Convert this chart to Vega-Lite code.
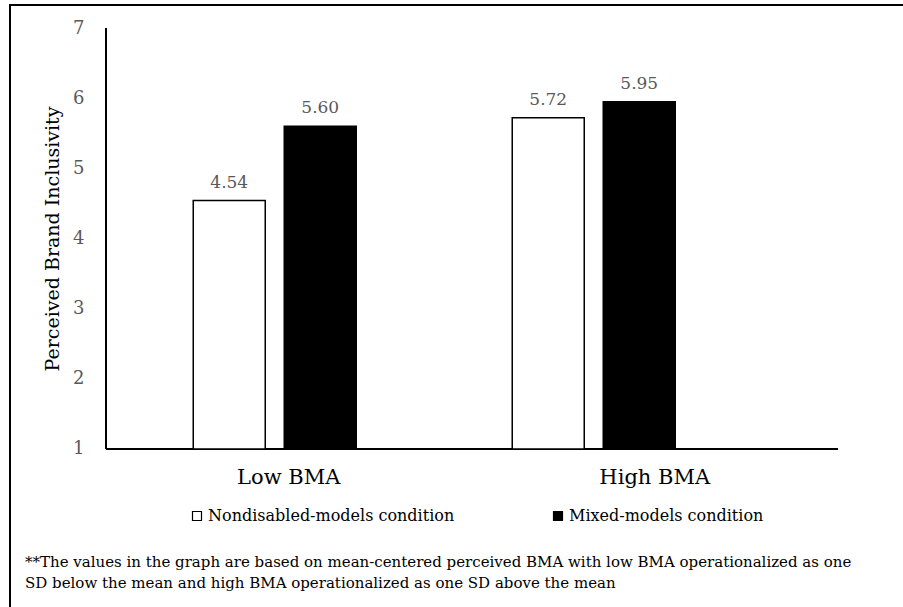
{
  "$schema": "https://vega.github.io/schema/vega-lite/v6.json",
  "autosize": "none",
  "width": 900,
  "height": 610,
  "padding": {"left": 10, "top": 5, "right": 0, "bottom": 0},
  "background": "white",
  "config": {
    "view": {"stroke": "black", "strokeWidth": 2},
    "axisX": {
      "offset": -166,
      "domain": false,
      "ticks": false,
      "grid": false,
      "labelAngle": 0,
      "labelFont": "DejaVu Serif",
      "labelFontSize": 21,
      "labelColor": "black",
      "labelPadding": 17
    },
    "axisY": {
      "offset": -96,
      "domain": false,
      "ticks": false,
      "grid": false,
      "labelFont": "DejaVu Serif",
      "labelFontSize": 18,
      "labelColor": "#595959",
      "labelPadding": 22,
      "titleFont": "DejaVu Serif",
      "titleFontSize": 19,
      "titleFontWeight": "normal",
      "titleColor": "black",
      "titleX": -44,
      "titleY": 233.5
    }
  },
  "title": {
    "text": [
      "**The values in the graph are based on mean-centered perceived BMA with low BMA operationalized as one",
      "SD below the mean and high BMA operationalized as one SD above the mean"
    ],
    "orient": "bottom",
    "anchor": "start",
    "frame": "group",
    "font": "DejaVu Serif",
    "fontSize": 15,
    "fontWeight": "normal",
    "color": "black",
    "lineHeight": 21,
    "baseline": "top",
    "offset": -60,
    "dx": 15
  },
  "data": {
    "values": [
      {"bma": "Low BMA", "condition": "Nondisabled-models condition", "inclusivity": 4.54},
      {"bma": "Low BMA", "condition": "Mixed-models condition", "inclusivity": 5.60},
      {"bma": "High BMA", "condition": "Nondisabled-models condition", "inclusivity": 5.72},
      {"bma": "High BMA", "condition": "Mixed-models condition", "inclusivity": 5.95}
    ]
  },
  "layer": [
    {
      "mark": {"type": "rule", "color": "black", "strokeWidth": 1.5},
      "encoding": {
        "x": {"datum": "Low BMA", "type": "nominal", "bandPosition": -0.029, "title": null},
        "y": {"datum": 1, "type": "quantitative", "title": "Perceived Brand Inclusivity"},
        "y2": {"datum": 7}
      }
    },
    {
      "mark": {"type": "rule", "color": "black", "strokeWidth": 1.5},
      "encoding": {
        "x": {"datum": "Low BMA", "type": "nominal", "bandPosition": -0.029, "title": null},
        "x2": {"datum": "High BMA", "bandPosition": 1.2657},
        "y": {"datum": 1, "type": "quantitative", "title": "Perceived Brand Inclusivity"}
      }
    },
    {
      "mark": {"type": "bar", "stroke": "black", "strokeWidth": 1.5},
      "encoding": {
        "x": {
          "field": "bma",
          "type": "nominal",
          "sort": null,
          "title": null,
          "scale": {
            "type": "band",
            "domain": ["Low BMA", "High BMA"],
            "paddingInner": 0,
            "paddingOuter": 0.41066,
            "align": 0.4017,
            "round": false
          },
          "axis": {
            "labelOffset": {"condition": {"test": "datum.value === 'High BMA'", "value": 61}, "value": 14}
          }
        },
        "xOffset": {
          "field": "condition",
          "type": "nominal",
          "scale": {
            "domain": ["Nondisabled-models condition", "Mixed-models condition"],
            "paddingInner": 0.2088,
            "paddingOuter": 0.857
          }
        },
        "y": {
          "field": "inclusivity",
          "type": "quantitative",
          "title": "Perceived Brand Inclusivity",
          "scale": {"domain": [-1.3658, 7.3278], "nice": false, "zero": false},
          "axis": {"values": [1, 2, 3, 4, 5, 6, 7], "format": "d"}
        },
        "y2": {"datum": 1},
        "fill": {
          "field": "condition",
          "type": "nominal",
          "scale": {
            "domain": ["Nondisabled-models condition", "Mixed-models condition"],
            "range": ["white", "black"]
          },
          "legend": {
            "orient": "none",
            "legendX": 179,
            "legendY": 503,
            "direction": "horizontal",
            "title": null,
            "padding": 0,
            "symbolType": "square",
            "symbolSize": 81,
            "symbolStrokeColor": "black",
            "symbolStrokeWidth": 1.2,
            "labelFont": "DejaVu Serif",
            "labelFontSize": 16,
            "labelColor": "black",
            "labelLimit": 400,
            "labelOffset": 3,
            "columnPadding": 95
          }
        }
      }
    },
    {
      "mark": {
        "type": "text",
        "baseline": "alphabetic",
        "dy": -13,
        "font": "DejaVu Serif",
        "fontSize": 17,
        "color": "#595959"
      },
      "encoding": {
        "x": {"field": "bma", "type": "nominal", "sort": null, "title": null},
        "xOffset": {"field": "condition", "type": "nominal"},
        "y": {"field": "inclusivity", "type": "quantitative", "title": "Perceived Brand Inclusivity"},
        "text": {"field": "inclusivity", "type": "quantitative", "format": ".2f"}
      }
    }
  ]
}
